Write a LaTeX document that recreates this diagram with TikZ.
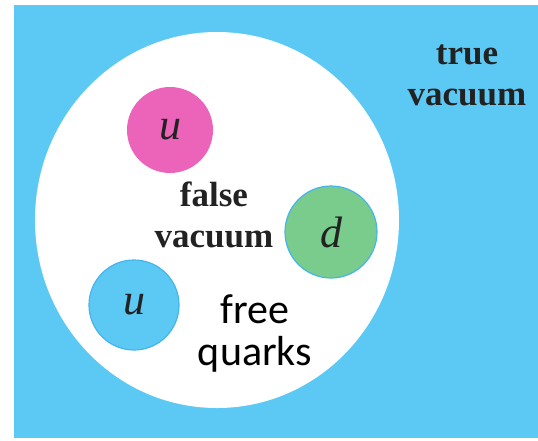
\documentclass[tikz,border=0pt]{standalone}
\usepackage{fontspec}
\setmainfont{Liberation Serif}
\newfontfamily\quarkfont{Carlito}
\usepackage{tikz}
\usetikzlibrary{shapes.geometric}
\definecolor{truevac}{HTML}{5BC9F3}
\definecolor{upink}{HTML}{EC64BA}
\definecolor{dgreen}{HTML}{79CC8B}
\definecolor{rim}{HTML}{45B5EC}
\definecolor{ink}{HTML}{222222}

\begin{document}
\begin{tikzpicture}[
  x=1pt, y=-1pt,
  quark/.style={circle, minimum size=#1, inner sep=0pt, font=\fontsize{44}{44}\selectfont\itshape, text=ink},
  vac/.style={align=center, text=ink, font=\fontsize{35}{41}\selectfont\bfseries, anchor=base},
  note/.style={align=center, text=black, font=\fontsize{42}{42}\selectfont\quarkfont, anchor=base}
]
  \useasboundingbox (0,0) rectangle (538,440);
  \fill[truevac] (14,5) rectangle (538,438);
  \node[ellipse, fill=white, minimum width=364, minimum height=376, inner sep=0pt] (bubble) at (217,220) {};
  \node[quark=86, fill=upink] (u1) at (170,130) {u};
  \node[quark=92, fill=dgreen, draw=rim, line width=1.2pt] (d) at (331,232) {d};
  \node[quark=90, fill=truevac, draw=rim, line width=1.2pt] (u2) at (134,305) {u};
  \node[vac] (false) at (214,247) {false\\vacuum};
  \node[vac] (true) at (467,105) {true\\vacuum};
  \node[note] (free) at (255,365) {free\\quarks};
\end{tikzpicture}
\end{document}
